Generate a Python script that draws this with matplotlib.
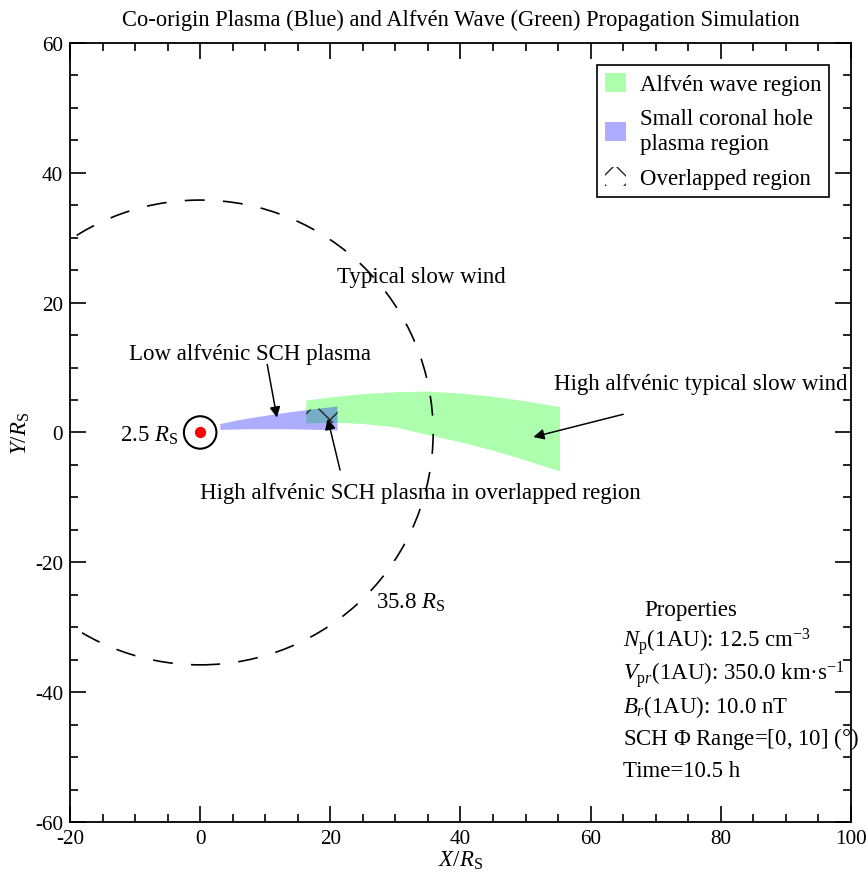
import numpy as np
import matplotlib
matplotlib.use("Agg")
import matplotlib.pyplot as plt
from matplotlib.patches import Circle, Polygon, Patch
from matplotlib.ticker import MultipleLocator

plt.rcParams['font.family'] = ['Liberation Serif', 'DejaVu Serif']
plt.rcParams['mathtext.fontset'] = 'custom'
plt.rcParams['mathtext.rm'] = 'Liberation Serif'
plt.rcParams['mathtext.it'] = 'Liberation Serif:italic'
plt.rcParams['mathtext.bf'] = 'Liberation Serif:bold'
plt.rcParams['axes.unicode_minus'] = False
plt.rcParams['hatch.linewidth'] = 1.1

# Alfvén wave region boundaries (in R_S)
green_top_x = [16.3, 20, 25, 30, 35, 40, 45, 50, 55.3]
green_top_y = [4.9, 5.4, 5.9, 6.2, 6.3, 6.0, 5.5, 4.8, 3.9]
green_bot_x = [16.3, 21, 25, 30, 35, 40, 45, 50, 55.3]
green_bot_y = [1.4, 1.5, 1.3, 0.8, -0.4, -1.5, -2.8, -4.3, -6.0]

# small coronal hole plasma region boundaries
blue_top_x = [3.1, 6, 9, 12, 16.4, 21.1]
blue_top_y = [1.3, 1.9, 2.4, 2.85, 3.45, 4.0]
blue_bot_x = [3.1, 8, 12, 16, 21.1]
blue_bot_y = [0.4, 0.5, 0.5, 0.45, 0.3]

sun_radius = 2.5
slow_wind_radius = 35.8

props = [r'$N_\mathrm{p}$(1AU): 12.5 cm$^{-3}$',
         r'$V_{\mathrm{p}r}$(1AU): 350.0 km·s$^{-1}$',
         r'$B_r$(1AU): 10.0 nT',
         r'SCH $\mathit{Φ}$ Range=[0, 10] (°)',
         'Time=10.5 h']


def region(tx, ty, bx, by):
    xs = np.concatenate([tx, bx[::-1]])
    ys = np.concatenate([ty, by[::-1]])
    return np.column_stack([xs, ys])


fig = plt.figure(figsize=(866 / 90, 874 / 90), dpi=90)
ax = fig.add_axes([0.0808, 0.0584, 0.9019, 0.8913])

green_poly = Polygon(region(green_top_x, green_top_y, green_bot_x, green_bot_y),
                     closed=True, facecolor=(0, 1, 0), alpha=0.32, lw=0)
blue_poly = Polygon(region(blue_top_x, blue_top_y, blue_bot_x, blue_bot_y),
                    closed=True, facecolor=(0, 0, 1), alpha=0.32, lw=0)
ax.add_patch(green_poly)
ax.add_patch(blue_poly)

# hatched overlap: blue region clipped by green region
overlap = Polygon(region(blue_top_x, blue_top_y, blue_bot_x, blue_bot_y),
                  closed=True, facecolor='none', edgecolor='#222222', hatch='x', lw=0)
ax.add_patch(overlap)
overlap.set_clip_path(green_poly)

# sun and source surface
ax.plot([0], [0], 'o', color='red', markersize=8)
ax.add_patch(Circle((0, 0), sun_radius, fill=False, color='black', lw=1.65))
ax.add_patch(Circle((0, 0), slow_wind_radius, fill=False, color='black', lw=1.33,
                    linestyle=(0, (12, 11))))

fs = 18.3
arrow = dict(arrowstyle='-|>', color='black', lw=1.2, mutation_scale=17.5,
             shrinkA=0, shrinkB=0)
ax.text(34, 24, 'Typical slow wind', ha='center', va='center', fontsize=fs)
ax.text(7.7, 12.1, 'Low alfvénic SCH plasma', ha='center', va='center', fontsize=fs)
ax.annotate('', xy=(11.8, 2.3), xytext=(10.3, 10.5), arrowprops=arrow)
ax.text(33.8, -9.3, 'High alfvénic SCH plasma in overlapped region',
        ha='center', va='center', fontsize=fs)
ax.annotate('', xy=(19.6, 2.1), xytext=(21.5, -5.8), arrowprops=arrow)
ax.text(76.9, 7.5, 'High alfvénic typical slow wind', ha='center', va='center', fontsize=fs)
ax.annotate('', xy=(51.2, -0.7), xytext=(65, 2.8), arrowprops=arrow)
ax.text(-3.3, -0.3, r'2.5 $R_\mathrm{S}$', ha='right', va='center', fontsize=fs)
ax.text(32.3, -26.1, r'35.8 $R_\mathrm{S}$', ha='center', va='center', fontsize=fs)

ax.text(75.4, -27.2, 'Properties', ha='center', va='center', fontsize=fs)
for i, line in enumerate(props):
    ax.text(64.9, -32.1 - 5 * i, line, ha='left', va='center', fontsize=fs)

handles = [Patch(facecolor=(0, 1, 0), alpha=0.32, lw=0, label='Alfvén wave region'),
           Patch(facecolor=(0, 0, 1), alpha=0.32, lw=0, label='Small coronal hole\nplasma region'),
           Patch(facecolor='none', edgecolor='#222222', hatch='x', lw=0, label='Overlapped region')]
leg = ax.legend(handles=handles, loc='upper right', fontsize=fs, fancybox=False,
                framealpha=1, edgecolor='black', handlelength=0.9, handleheight=0.9,
                handletextpad=0.6, labelspacing=0.55, borderpad=0.35, borderaxespad=0.95)
leg.get_frame().set_linewidth(1.33)
for t in leg.get_texts():
    t.set_linespacing(1.3)

ax.set_xlim(-20, 100)
ax.set_ylim(-60, 60)
ax.xaxis.set_major_locator(MultipleLocator(20))
ax.xaxis.set_minor_locator(MultipleLocator(5))
ax.yaxis.set_major_locator(MultipleLocator(20))
ax.yaxis.set_minor_locator(MultipleLocator(5))
ax.tick_params(which='both', direction='in', top=True, right=True, labelsize=17, width=1.33)
ax.tick_params(which='major', length=12.8, pad=5.5)
ax.tick_params(which='minor', length=6.4)
for sp in ax.spines.values():
    sp.set_linewidth(1.45)

ax.set_xlabel(r'$X/R_\mathrm{S}$', fontsize=fs, labelpad=1)
ax.set_ylabel(r'$Y/R_\mathrm{S}$', fontsize=fs, labelpad=2)
ax.set_title('Co-origin Plasma (Blue) and Alfvén Wave (Green) Propagation Simulation',
             fontsize=18, pad=14)

fig.savefig('out.png', dpi=90)
